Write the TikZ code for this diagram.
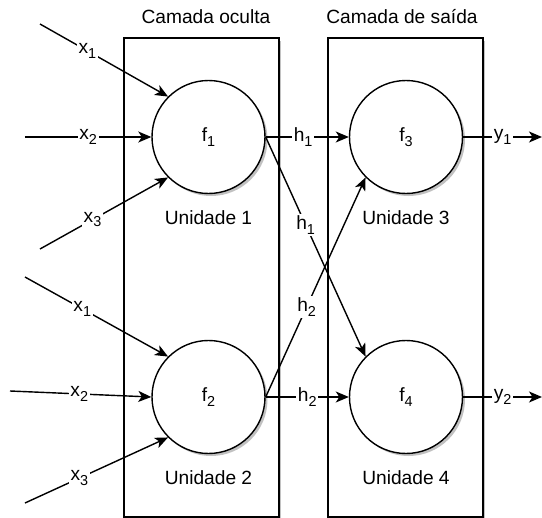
\documentclass[tikz,border=0pt]{standalone}
\usepackage{fontspec}
\setmainfont{Liberation Sans}
\usepackage{tikz}
\usetikzlibrary{arrows.meta, positioning, shadows}
\newcommand{\lsub}[1]{\raisebox{-0.45ex}{\fontsize{8.2}{9}\selectfont #1}}
\tikzset{
  layerbox/.style={rectangle, draw, fill=white, line width=0.8pt, minimum width=3.1cm, minimum height=9.58cm, drop shadow={shadow xshift=0.05cm, shadow yshift=-0.05cm, fill=black!40, opacity=0.6}},
  unit/.style={circle, draw, fill=white, line width=0.8pt, minimum size=2.26cm, inner sep=0pt, drop shadow={shadow xshift=0.05cm, shadow yshift=-0.05cm, fill=black!40, opacity=0.6}},
  arrow/.style={-{Stealth[length=2.6mm, width=2.2mm, inset=0.7mm]}, line width=0.8pt},
  wlabel/.style={fill=white, inner sep=1pt},
}

\begin{document}
\begin{tikzpicture}[font=\fontsize{10.9}{13}\selectfont]
  \useasboundingbox (0,0) rectangle (10.84,-10.36);

  % layers
  \node (title1) at (4.12, -0.34) {Camada oculta};
  \node (title2) at (8.04, -0.34) {Camada de saída};
  \node[layerbox] (hidden) at (4.03, -5.55) {};
  \node[layerbox] (output) at (8.11, -5.55) {};

  % units
  \node[unit] (f1) at (4.17, -2.74) {f\lsub{1}};
  \node[unit] (f2) at (4.17, -7.94) {f\lsub{2}};
  \node[unit] (f3) at (8.12, -2.74) {f\lsub{3}};
  \node[unit] (f4) at (8.12, -7.94) {f\lsub{4}};

  \node (u1) at (4.17, -4.36) {Unidade 1};
  \node (u2) at (4.17, -9.56) {Unidade 2};
  \node (u3) at (8.12, -4.36) {Unidade 3};
  \node (u4) at (8.12, -9.56) {Unidade 4};

  % inputs
  \coordinate (a1) at (0.8, -0.48);
  \coordinate (a2) at (0.5, -2.74);
  \coordinate (a3) at (0.8, -4.98);
  \coordinate (b1) at (0.5, -5.54);
  \coordinate (b2) at (0.2, -7.82);
  \coordinate (b3) at (0.5, -10.06);

  \draw[arrow] (a1) -- node[wlabel, pos=0.37] (la1) {x\lsub{1}} (f1.135);
  \draw[arrow] (a2) -- node[wlabel, pos=0.5] (la2) {x\lsub{2}} (f1.west);
  \draw[arrow] (a3) -- node[wlabel, pos=0.41] (la3) {x\lsub{3}} (f1.225);

  \draw[arrow] (b1) -- node[wlabel, pos=0.4] (lb1) {x\lsub{1}} (f2.135);
  \draw[arrow] (b2) -- node[wlabel, pos=0.49] (lb2) {x\lsub{2}} (f2.west);
  \draw[arrow] (b3) -- node[wlabel, pos=0.38] (lb3) {x\lsub{3}} (f2.225);

  % hidden -> output
  \draw[arrow] (f1.east) -- node[wlabel, pos=0.45] (lh11) {h\lsub{1}} (f3.west);
  \draw[arrow] (f1.east) -- node[wlabel, pos=0.4] (lh12) {h\lsub{1}} (f4.135);
  \draw[arrow] (f2.east) -- node[wlabel, pos=0.41] (lh21) {h\lsub{2}} (f3.225);
  \draw[arrow] (f2.east) -- node[wlabel, pos=0.5] (lh22) {h\lsub{2}} (f4.west);

  % outputs
  \coordinate (o1) at (10.84, -2.74);
  \coordinate (o2) at (10.84, -7.94);
  \draw[arrow] (f3.east) -- node[wlabel, pos=0.5] (ly1) {y\lsub{1}} (o1);
  \draw[arrow] (f4.east) -- node[wlabel, pos=0.5] (ly2) {y\lsub{2}} (o2);
\end{tikzpicture}
\end{document}
